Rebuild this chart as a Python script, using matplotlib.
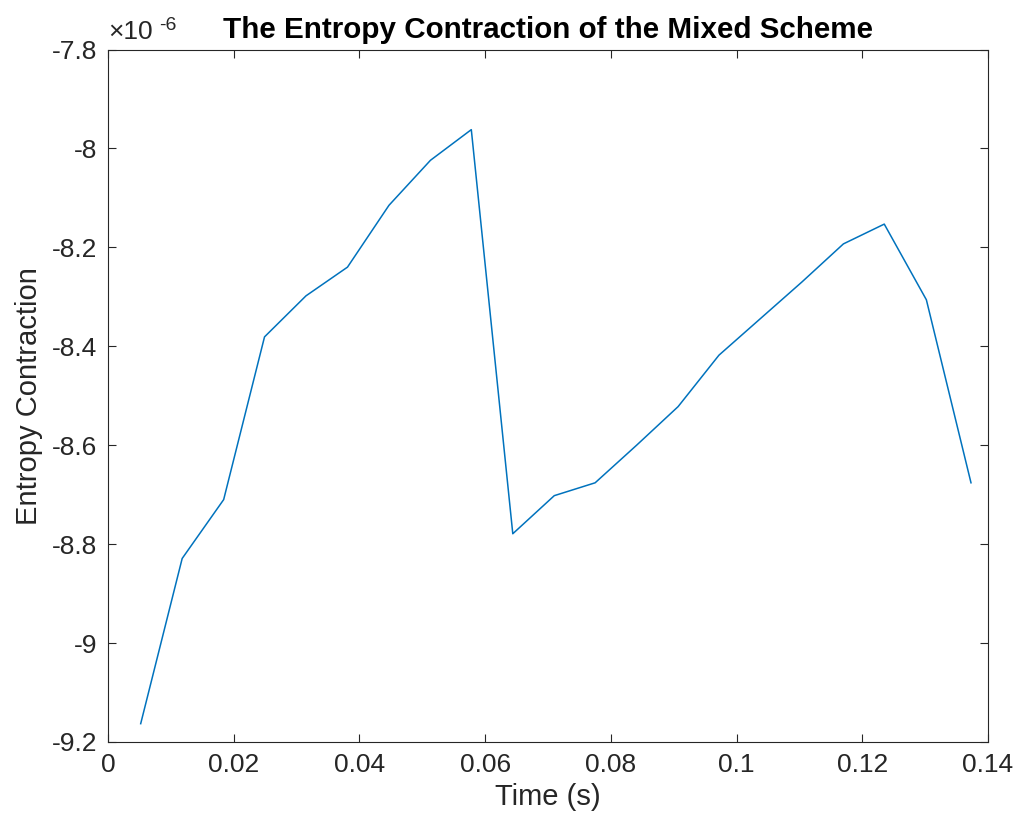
import numpy as np
import matplotlib
matplotlib.use("Agg")
import matplotlib.pyplot as plt
from matplotlib.ticker import FuncFormatter

# time steps (s) and entropy contraction (in units of 1e-6)
time_s = [0.0052, 0.0118, 0.0184, 0.0249, 0.0315, 0.0381, 0.0447, 0.0513,
          0.0578, 0.0644, 0.0710, 0.0775, 0.0841, 0.0907, 0.0972, 0.1038,
          0.1104, 0.1170, 0.1235, 0.1302, 0.1373]
contraction = [-9.163, -8.829, -8.710, -8.381, -8.298, -8.240, -8.115, -8.024,
               -7.962, -8.779, -8.702, -8.676, -8.600, -8.522, -8.418, -8.344,
               -8.270, -8.193, -8.153, -8.306, -8.676]

x_ticks = [0, 0.02, 0.04, 0.06, 0.08, 0.1, 0.12, 0.14]
y_ticks = [-9.2, -9.0, -8.8, -8.6, -8.4, -8.2, -8.0, -7.8]

plt.rcParams['font.family'] = ['Liberation Sans', 'DejaVu Sans']
plt.rcParams['axes.unicode_minus'] = False

fig = plt.figure(figsize=(10.18, 8.32), dpi=100)
ax = fig.add_axes([0.1061, 0.1082, 0.8644, 0.8323])

ax.plot(time_s, contraction, color='#0072BD', linewidth=1.1)

ax.set_xlim(0, 0.14)
ax.set_ylim(-9.2, -7.8)
ax.set_xticks(x_ticks)
ax.set_yticks(y_ticks)
fmt = FuncFormatter(lambda v, pos: '%g' % round(v, 4))
ax.xaxis.set_major_formatter(fmt)
ax.yaxis.set_major_formatter(fmt)

grey = '#262626'
for s in ax.spines.values():
    s.set_color(grey)
    s.set_linewidth(0.8)
ax.tick_params(direction='in', length=6, width=0.8, colors=grey,
               labelsize=19, top=True, right=True, pad=8)

ax.set_xlabel('Time (s)', fontsize=21, color=grey, labelpad=4)
ax.set_ylabel('Entropy Contraction', fontsize=21, color=grey, labelpad=6)
ax.set_title('The Entropy Contraction of the Mixed Scheme', fontsize=21.3,
             fontweight='bold', color='black', pad=8)

# exponent marker above the y axis
ax.text(0.0, 1.008, '\u00d710', transform=ax.transAxes,
        fontsize=19, color=grey, ha='left', va='bottom')
ax.text(0.058, 1.022, '-6', transform=ax.transAxes,
        fontsize=14, color=grey, ha='left', va='bottom')

fig.savefig('out.png', dpi=100, facecolor='white')
